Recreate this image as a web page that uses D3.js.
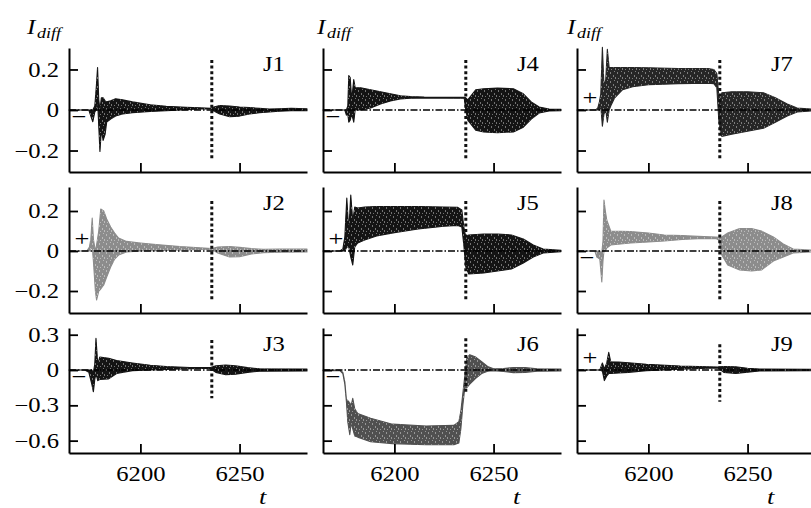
<!DOCTYPE html>
<html><head><meta charset="utf-8">
<script src="https://cdn.jsdelivr.net/npm/d3@7"></script>
<style>
html,body{margin:0;padding:0;background:#fff;}
svg{display:block;}
svg text{font-family:"Liberation Serif","Times New Roman",Times,serif;}
</style></head><body>
<svg id="chart" width="811" height="508"></svg>
<script>
// ---- data ----
const timeDomain = [6164, 6284];
const xTicks = [6200, 6250];
const panelNames = ["J1","J2","J3","J4","J5","J6","J7","J8","J9"];
const panelSigns = ["−","+","−","−","+","−","+","−","+"];
const panelColors = ["#141414","#8c8c8c","#141414","#141414","#141414","#505050","#262626","#8c8c8c","#141414"];
const rowDomains = [[-0.306, 0.306], [-0.31, 0.32], [-0.705, 0.357]];
const rowTicks = [[-0.2, 0, 0.2], [-0.2, 0, 0.2], [-0.6, -0.3, 0, 0.3]];
const switchTime = 6236;
const switchSpan = [[-0.245,0.247],[-0.245,0.25],[-0.24,0.255],[-0.245,0.247],[-0.245,0.25],[-0.19,0.27],[-0.245,0.247],[-0.245,0.25],[-0.27,0.22]];

// envelopes of the oscillating difference current: [t, upper, lower]
const envJ1 = [[6164,0,0],[6174,0,0],[6175,0,-0.03],[6176,0,-0.058],[6177,0.02,-0.01],[6177.8,0.12,0],[6178.4,0.21,0.05],[6179,0.05,-0.08],[6179.6,0,-0.205],[6180.3,0.06,-0.1],[6181.2,0.06,-0.15],[6182.2,0.045,-0.12],[6183,0.04,-0.06],[6185,0.045,-0.045],[6187.5,0.055,-0.03],[6191,0.05,-0.02],[6196,0.04,-0.013],[6205,0.026,-0.007],[6213,0.018,-0.004],[6223,0.013,0.002],[6230,0.011,0.005],[6235.5,0.009,0.006],[6237,0.015,-0.005],[6240,0.022,-0.02],[6245,0.02,-0.033],[6250,0.015,-0.03],[6255,0.012,-0.02],[6260,0.008,-0.013],[6265,0.005,-0.01],[6270,0.006,-0.006],[6276,0.008,-0.004],[6284,0.006,-0.004]];
const envJ2 = [[6164,0,0],[6173,0,0],[6174.3,0.02,0],[6175,0.06,0.01],[6175.7,0.165,0.02],[6176.3,0.06,-0.05],[6177.3,0,-0.2],[6177.9,0.03,-0.245],[6179,0.1,-0.2],[6180,0.21,-0.19],[6181.5,0.2,-0.17],[6183,0.16,-0.13],[6185,0.12,-0.08],[6187,0.09,-0.04],[6189,0.065,-0.02],[6193,0.048,-0.005],[6200,0.04,0],[6208,0.032,0.002],[6220,0.022,0.005],[6232,0.015,0.008],[6236,0.012,0.008],[6239,0.02,-0.01],[6245,0.022,-0.03],[6250,0.018,-0.028],[6256,0.012,-0.015],[6262,0.008,-0.008],[6270,0.01,-0.006],[6284,0.01,-0.005]];
const envJ3 = [[6164,0,0],[6172,0,0],[6174,0,-0.02],[6175.5,0,-0.12],[6176.3,-0.02,-0.185],[6177,0.05,-0.08],[6177.6,0.27,-0.03],[6178.5,0.05,-0.09],[6179.5,0.11,-0.08],[6184,0.1,-0.075],[6188,0.08,-0.03],[6196,0.06,-0.005],[6205,0.04,0],[6213,0.03,0.005],[6225,0.022,0.012],[6235,0.02,0.015],[6238,0.035,-0.02],[6243,0.042,-0.04],[6248,0.035,-0.035],[6254,0.02,-0.02],[6260,0.01,-0.01],[6284,0.008,-0.008]];
const envJ4 = [[6164,0,0],[6175,0,0],[6175.8,0,-0.025],[6176.5,0.02,-0.02],[6177,0.17,-0.06],[6177.7,0.16,-0.05],[6178.5,0.05,-0.02],[6179.5,0.15,-0.06],[6180.2,0.11,0],[6183,0.11,0],[6188,0.1,0.01],[6193,0.09,0.03],[6198,0.08,0.045],[6203,0.07,0.055],[6208,0.066,0.058],[6215,0.064,0.06],[6235.2,0.063,0.058],[6236,0.06,0],[6237,0.05,-0.05],[6241,0.1,-0.1],[6245,0.105,-0.108],[6252,0.108,-0.112],[6260,0.105,-0.108],[6265,0.08,-0.085],[6269,0.04,-0.045],[6273,0.015,-0.015],[6278,0.005,-0.005],[6284,0.003,-0.003]];
const envJ5 = [[6164,0,0],[6172.5,0,0],[6174,0.01,0],[6175,0.07,0],[6176,0.265,0.02],[6177,0.1,0.02],[6178,0.28,-0.03],[6179,0.15,-0.07],[6180,0.22,0.02],[6181.5,0.215,0.04],[6185,0.22,0.055],[6191,0.222,0.075],[6200,0.222,0.092],[6212,0.222,0.11],[6225,0.22,0.124],[6232,0.218,0.128],[6234,0.205,0.12],[6235,0.12,0.03],[6236,0.07,-0.08],[6237.5,0.08,-0.115],[6245,0.085,-0.11],[6252,0.085,-0.1],[6259,0.08,-0.09],[6265,0.06,-0.06],[6270,0.03,-0.03],[6275,0.01,-0.01],[6284,0.003,-0.003]];
const envJ6 = [[6164,0,-0.005],[6172.5,0,-0.005],[6174,-0.02,-0.03],[6175,-0.1,-0.12],[6175.8,-0.25,-0.27],[6176.5,-0.26,-0.44],[6177.5,-0.28,-0.55],[6178.2,-0.3,-0.45],[6179,-0.24,-0.5],[6180,-0.33,-0.56],[6181.5,-0.37,-0.57],[6188,-0.41,-0.61],[6199,-0.46,-0.625],[6216,-0.475,-0.635],[6230,-0.47,-0.635],[6232.5,-0.44,-0.62],[6233.5,-0.35,-0.5],[6234.5,-0.2,-0.3],[6235.5,-0.05,-0.15],[6236.5,0.1,-0.15],[6238,0.13,-0.12],[6241,0.11,-0.07],[6244,0.07,-0.03],[6247,0.03,-0.01],[6250,0.01,-0.005],[6255,0.012,-0.012],[6260,0.022,-0.022],[6266,0.02,-0.02],[6272,0.01,-0.01],[6284,0.008,-0.008]];
const envJ7 = [[6164,0,0],[6173.5,0,0],[6174.5,0.01,0],[6175.3,0.04,0],[6176,0.08,0.02],[6176.8,0.31,-0.08],[6177.6,0.12,-0.02],[6178.5,0.15,0],[6179.3,0.3,-0.06],[6180.2,0.21,0],[6181,0.21,0.02],[6183,0.21,0.06],[6187,0.21,0.1],[6192,0.21,0.115],[6200,0.208,0.125],[6215,0.205,0.13],[6230,0.205,0.132],[6233,0.2,0.13],[6234.5,0.18,0.11],[6235.5,0.07,-0.05],[6236.5,0.05,-0.12],[6237,0.085,-0.13],[6242,0.09,-0.12],[6250,0.09,-0.105],[6258,0.085,-0.09],[6264,0.06,-0.06],[6270,0.03,-0.03],[6275,0.01,-0.01],[6284,0.003,-0.003]];
const envJ8 = [[6164,0,0],[6173,0,0],[6174,0,-0.03],[6175.5,0,-0.04],[6176.5,-0.01,-0.155],[6177.1,0.05,-0.05],[6177.6,0.255,0],[6178.3,0.2,0],[6179,0.155,0.015],[6181,0.1,0.03],[6191,0.097,0.04],[6200,0.09,0.045],[6208,0.08,0.05],[6217,0.077,0.058],[6225,0.073,0.062],[6234,0.07,0.062],[6235.5,0.068,0.055],[6237,0.07,-0.02],[6240,0.09,-0.07],[6246,0.112,-0.095],[6252,0.112,-0.1],[6257,0.1,-0.095],[6263,0.07,-0.05],[6268,0.035,-0.03],[6273,0.01,-0.01],[6284,0.003,-0.003]];
const envJ9 = [[6164,0,0],[6175.5,0,0],[6176.8,0.06,-0.01],[6177.8,0.01,-0.09],[6179,0.06,-0.05],[6180,0.15,-0.03],[6181,0.07,-0.03],[6185,0.068,-0.025],[6190,0.062,-0.02],[6199,0.048,-0.005],[6216,0.034,0.008],[6230,0.028,0.015],[6235,0.025,0.018],[6238,0.03,-0.02],[6244,0.028,-0.03],[6250,0.015,-0.018],[6256,0.008,-0.008],[6284,0.006,-0.006]];
const envelopes = [envJ1, envJ2, envJ3, envJ4, envJ5, envJ6, envJ7, envJ8, envJ9];

// ---- layout ----
const colLeft = [69, 323, 577];
const plotW = 238;
const rowRange = [[172, 48], [313, 187], [453, 328]];
const SX = 1.2; // horizontal stretch of the serif lettering
const FONT = "'Liberation Serif', 'Times New Roman', Times, serif";

const svg = d3.select("#chart");
const defs = svg.append("defs");
// sparse light specks that suggest the individual oscillation periods
const pat = defs.append("pattern").attr("id", "specks")
  .attr("patternUnits", "userSpaceOnUse").attr("width", 7).attr("height", 9);
[[1,0,1,2],[4,3,1,2],[2,6,1,1],[6,5,1,2],[5,8,1,1]].forEach(r =>
  pat.append("rect").attr("x", r[0]).attr("y", r[1]).attr("width", r[2]).attr("height", r[3])
    .attr("fill", "#fff").attr("fill-opacity", 0.4));

function stretched(g, x, y, txt, size, opts = {}) {
  return g.append("text")
    .attr("transform", `translate(${x},${y}) scale(${SX},1)`)
    .attr("font-family", FONT)
    .attr("font-size", size)
    .attr("font-style", opts.italic ? "italic" : null)
    .attr("text-anchor", opts.anchor || "start")
    .attr("fill", "#000")
    .text(txt);
}

const fmt = d => d === 0 ? "0" : d3.format(".1f")(d);

panelNames.forEach((name, i) => {
  const col = Math.floor(i / 3), row = i % 3;
  const x0 = colLeft[col];
  const x = d3.scaleLinear().domain(timeDomain).range([x0, x0 + plotW]);
  const y = d3.scaleLinear().domain(rowDomains[row]).range(rowRange[row]);
  const g = svg.append("g");
  const color = panelColors[i];
  const env = envelopes[i];

  const area = d3.area().x(d => x(d[0])).y0(d => y(d[2])).y1(d => y(d[1]));
  g.append("path").datum(env).attr("d", area)
    .attr("fill", color).attr("stroke", color).attr("stroke-width", 1.1)
    .attr("stroke-linejoin", "round");
  g.append("path").datum(env).attr("d", area).attr("fill", "url(#specks)");

  // zero reference
  g.append("line").attr("x1", x(timeDomain[0])).attr("x2", x(timeDomain[1]))
    .attr("y1", y(0)).attr("y2", y(0))
    .attr("stroke", "#000").attr("stroke-width", 1.3)
    .attr("stroke-dasharray", "7,2,1.5,2");

  // switching instant
  g.append("line").attr("x1", x(switchTime)).attr("x2", x(switchTime))
    .attr("y1", y(switchSpan[i][1])).attr("y2", y(switchSpan[i][0]))
    .attr("stroke", "#111").attr("stroke-width", 3)
    .attr("stroke-dasharray", "3,2.6");

  // axes
  const yAxis = d3.axisLeft(y).tickValues(rowTicks[row]).tickSizeInner(-9).tickSizeOuter(0)
    .tickPadding(10).tickFormat(col === 0 ? fmt : () => "");
  const ya = g.append("g").attr("transform", `translate(${x0},0)`).call(yAxis);
  const xAxis = d3.axisBottom(x).tickValues(xTicks).tickSizeInner(-9).tickSizeOuter(0)
    .tickFormat(row === 2 ? d3.format("d") : () => "");
  const xa = g.append("g").attr("transform", `translate(0,${rowRange[row][0]})`).call(xAxis);
  [ya, xa].forEach(a => {
    a.attr("font-family", FONT).attr("font-size", null);
    a.selectAll("path.domain").attr("stroke", "#000").attr("stroke-width", 2);
    a.selectAll(".tick line").attr("stroke", "#000").attr("stroke-width", 1.8);
    a.selectAll(".tick text").attr("fill", "#000").attr("font-size", 20.5)
      .attr("font-family", FONT);
  });
  ya.selectAll(".tick text").attr("x", -10 / SX).attr("transform", `scale(${SX},1)`);
  xa.selectAll(".tick text").attr("y", 28).attr("dy", 0).attr("transform", `scale(${SX},1)`);

  // panel name
  stretched(g, x0 + 194, rowRange[row][1] + 23, name, 20.5);

  // polarity mark
  const z = y(0);
  if (panelSigns[i] === "+") stretched(g, x0 + 13, z - 5.5, "+", 22, { anchor: "middle" });
  else stretched(g, x0 + 10, z + 13.5, "−", 22, { anchor: "middle" });

  if (row === 0) {
    const lx = [27, 317, 567][col];
    stretched(g, lx, 34, "I", 21, { italic: true });
    stretched(g, lx + 10, 38, "diff", 15, { italic: true });
  }
  if (row === 2) {
    stretched(g, x0 + 190, 504, "t", 22, { italic: true });
  }
});
</script>
</body></html>
